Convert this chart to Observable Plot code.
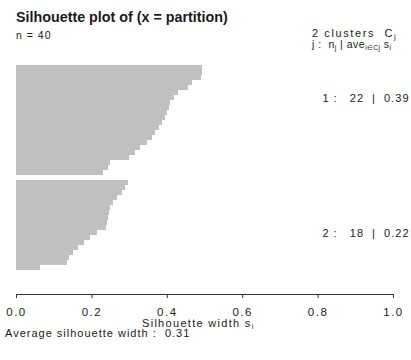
<!DOCTYPE html>
<html><head><meta charset="utf-8">
<script src="https://cdn.jsdelivr.net/npm/d3@7"></script>
<script src="https://cdn.jsdelivr.net/npm/@observablehq/plot@0.6"></script>
<style>
body{margin:0;background:#fff;font-family:"Liberation Sans",Arial,sans-serif;}
#wrap{position:relative;width:411px;height:360px;overflow:hidden;}
#wrap svg{position:absolute;left:0;top:0;}
.t{position:absolute;white-space:nowrap;color:#1a1a1a;line-height:1;}
sub{font-size:65%;vertical-align:-0.25em;letter-spacing:0.3px;}
</style></head><body><div id="wrap"></div>
<script>
const title = "Silhouette plot of (x = partition)";
const nTotal = 40;
const clusterNames = ["1", "2"];
const clusterSizes = [22, 18];
const clusterAvg = [0.39, 0.22];
const avgWidth = 0.31;
const cluster1 = [0.493,0.493,0.49,0.467,0.457,0.43,0.42,0.408,0.405,0.40,0.394,0.386,0.378,0.369,0.36,0.347,0.33,0.315,0.30,0.25,0.245,0.232];
const cluster2 = [0.297,0.289,0.28,0.268,0.258,0.25,0.247,0.245,0.242,0.24,0.215,0.195,0.18,0.165,0.15,0.14,0.135,0.064];
const tickValues = [0, 0.2, 0.4, 0.6, 0.8, 1.0];

const rows = [];
const ids = [];
[cluster1, cluster2].forEach((vals, c) => {
  if (c > 0) ids.push("gap" + c);
  vals.forEach((s, i) => { const id = `c${c+1}-${i}`; ids.push(id); rows.push({id, s, cluster: c+1}); });
});
const labelRows = [
  {id: "c1-6", text: `${clusterNames[0]} :   ${clusterSizes[0]}  |  ${clusterAvg[0].toFixed(2)}`},
  {id: "c2-10", text: `${clusterNames[1]} :   ${clusterSizes[1]}  |  ${clusterAvg[1].toFixed(2)}`}
];

const chart = Plot.plot({
  width: 411, height: 360,
  marginLeft: 16, marginRight: 18, marginTop: 51, marginBottom: 66,
  style: {fontFamily: "Liberation Sans, Arial, sans-serif", color: "#222", background: "white"},
  x: {domain: [0, 1]},
  y: {type: "band", domain: ids, range: [51, 284], padding: 0, axis: null},
  marks: [
    Plot.barX(rows, {x: "s", y: "id", fill: "#c0c0c0", shapeRendering: "crispEdges"}),
    Plot.frame({anchor: "bottom", stroke: "#333"}),
    Plot.axisX({ticks: tickValues, tickFormat: d => d.toFixed(1), tickSize: 4, tickPadding: 9, fontSize: 11.5, label: null, stroke: "#333"}),
    Plot.text(labelRows, {x: () => 1, y: "id", text: "text", textAnchor: "end", dx: 16, fontSize: 11, fill: "#222"})
  ]
});
const wrap = document.getElementById("wrap");
wrap.appendChild(chart);
d3.select(chart).selectAll('g[aria-label="x-axis tick label"] text').style("letter-spacing", "1.5px");
d3.select(chart).selectAll('g[aria-label="text"] text').style("letter-spacing", "1px");
function addText(html, left, top, size, extra) {
  const d = document.createElement("div");
  d.className = "t"; d.innerHTML = html;
  d.style.left = left + "px"; d.style.top = top + "px"; d.style.fontSize = size + "px";
  if (extra) Object.assign(d.style, extra);
  wrap.appendChild(d);
}
addText(title, 16, 10, 14.3, {fontWeight: "bold"});
addText(`n = ${nTotal}`, 16, 30, 10.5, {letterSpacing: "1px"});
addText(`${clusterSizes.length} clusters &nbsp;C<sub>j</sub>`, 312, 28, 11, {letterSpacing: "1.6px"});
addText(`j : &nbsp;n<sub>j</sub> | ave<sub>i∈Cj</sub> s<sub>i</sub>`, 312, 39, 10.5, {letterSpacing: "0.5px"});
addText(`Silhouette width s<sub>i</sub>`, 142, 318, 11, {letterSpacing: "1.3px"});
addText(`Average silhouette width : &nbsp;${avgWidth.toFixed(2)}`, 5, 328, 11, {letterSpacing: "1px"});
</script></body></html>
